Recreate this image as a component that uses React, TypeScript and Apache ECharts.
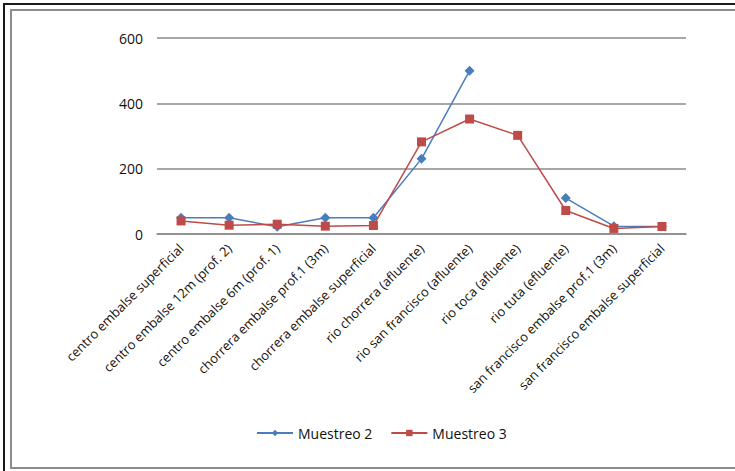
import React, { useEffect, useRef } from "react";
import * as echarts from "echarts";

const categories = [
  "centro embalse superficial",
  "centro embalse 12m (prof. 2)",
  "centro embalse 6m (prof. 1)",
  "chorrera embalse prof.1 (3m)",
  "chorrera embalse superficial",
  "rio chorrera (afluente)",
  "rio san francisco (afluente)",
  "rio toca (afluente)",
  "rio tuta (efluente)",
  "san francisco embalse prof.1 (3m)",
  "san francisco embalse superficial",
];
const muestreo2 = [50, 50, 22, 50, 50, 230, 500, null, 110, 24, 23];
const muestreo3 = [40, 27, 30, 24, 26, 282, 352, 302, 72, 17, 23];
const yTicks = { min: 0, max: 600, interval: 200 };

export default function App() {
  const ref = useRef<HTMLDivElement>(null);
  useEffect(() => {
    const chart = echarts.init(ref.current!, null, { renderer: "svg" });
    const font = "'Open Sans', 'Liberation Sans', sans-serif";
    chart.setOption({
      animation: false,
      backgroundColor: "#ffffff",
      textStyle: { fontFamily: font },
      graphic: [
        { type: "rect", shape: { x: 4, y: 4, width: 740, height: 480 }, style: { fill: "none", stroke: "#1a1a1a", lineWidth: 2 }, silent: true },
        { type: "rect", shape: { x: 11, y: 10, width: 740, height: 458 }, style: { fill: "none", stroke: "#8c8c8c", lineWidth: 2 }, silent: true },
      ],
      grid: { left: 157, right: 49, top: 38, bottom: 237, containLabel: false },
      legend: {
        bottom: 26,
        left: 251,
        itemWidth: 36,
        itemHeight: 8,
        itemGap: 18,
        textStyle: { fontSize: 14, color: "#111", fontFamily: font },
        data: ["Muestreo 2", "Muestreo 3"],
      },
      xAxis: {
        type: "category",
        data: categories,
        boundaryGap: true,
        axisLine: { lineStyle: { color: "#8a8a8a", width: 1.5 } },
        axisTick: { show: false },
        axisLabel: { rotate: 45, fontSize: 13, color: "#111", margin: 12, interval: 0, fontFamily: font },
      },
      yAxis: {
        type: "value",
        min: yTicks.min,
        max: yTicks.max,
        interval: yTicks.interval,
        axisLine: { show: false },
        axisTick: { show: false },
        axisLabel: { fontSize: 14, color: "#111", margin: 14, fontFamily: font },
        splitLine: { lineStyle: { color: "#8a8a8a", width: 1.5 } },
      },
      series: [
        {
          name: "Muestreo 2",
          type: "line",
          data: muestreo2,
          connectNulls: false,
          symbol: "diamond",
          symbolSize: 10,
          itemStyle: { color: "#4A7EBB" },
          lineStyle: { color: "#4A7EBB", width: 1.5 },
        },
        {
          name: "Muestreo 3",
          type: "line",
          data: muestreo3,
          symbol: "rect",
          symbolSize: 9,
          itemStyle: { color: "#BE4B48" },
          lineStyle: { color: "#BE4B48", width: 1.5 },
        },
      ],
    });
    return () => chart.dispose();
  }, []);
  return (
    <div
      ref={ref}
      style={{ position: "absolute", left: 0, top: 0, width: 735, height: 471 }}
    />
  );
}
